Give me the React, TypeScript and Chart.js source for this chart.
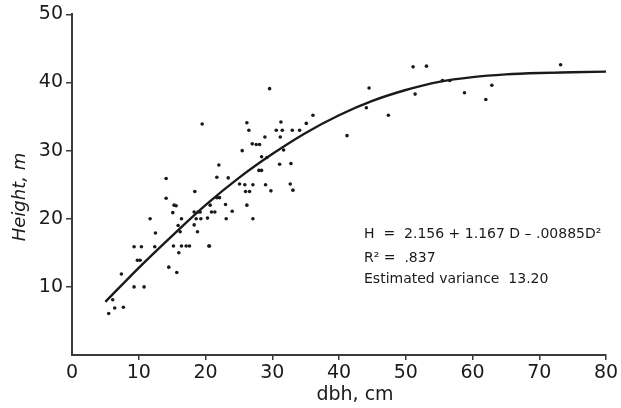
import React, { useEffect, useRef } from "react";
import { Chart, registerables } from "chart.js";

Chart.register(...registerables);

// Observed trees: diameter at breast height (cm) and height (m)
const dbh = [
  5.5, 6.1, 6.4, 7.7, 7.4, 9.3, 10.8, 9.3, 10.4, 9.8, 10.2, 11.7, 12.5, 12.4, 14.5, 15.7,
  14.1, 14.1, 15.3, 15.6, 15.1, 15.2, 16.0, 15.9, 16.2, 16.4, 16.4, 17.1, 17.6, 18.4, 18.3,
  18.9, 19.2, 18.6, 19.3, 20.3, 18.3, 18.8, 20.5, 19.5, 21.7, 23.4, 21.7, 22.1, 23.0, 20.7,
  20.9, 21.4, 24.0, 23.1, 22.0, 26.2, 26.5, 29.6, 31.3, 30.6, 31.5, 33.0, 34.1, 35.1, 36.1,
  31.2, 28.9, 27.0, 27.6, 28.1, 25.5, 31.7, 28.4, 29.2, 31.1, 32.8, 28.0, 28.4, 25.1, 25.9,
  27.1, 29.0, 32.7, 26.0, 26.6, 29.8, 33.1, 26.2, 27.1, 20.6, 41.2, 44.1, 44.5, 47.4, 51.1,
  53.1, 51.4, 55.5, 56.6, 58.8, 62.0, 62.9, 73.2,
];
const height = [
  6.1, 8.1, 6.9, 7.0, 11.9, 10.0, 10.0, 15.9, 15.9, 13.9, 13.9, 20.0, 17.9, 15.9, 12.9, 12.1,
  25.9, 23.0, 22.0, 21.9, 20.9, 16.0, 15.0, 19.0, 18.1, 20.0, 16.0, 16.0, 16.0, 24.0, 21.0,
  21.0, 21.0, 20.0, 20.0, 20.1, 19.1, 18.1, 16.0, 33.9, 26.1, 26.0, 23.1, 23.1, 22.1, 22.0,
  21.0, 21.0, 21.1, 20.0, 27.9, 34.1, 33.0, 39.1, 34.2, 33.0, 33.0, 33.0, 33.0, 34.0, 35.2,
  32.0, 32.0, 31.0, 30.9, 30.9, 30.0, 30.1, 29.1, 29.0, 28.0, 28.1, 27.1, 27.1, 25.1, 25.0,
  25.0, 25.0, 25.1, 24.0, 24.0, 24.1, 24.2, 22.0, 20.0, 16.0, 32.2, 36.3, 39.2, 35.2, 42.3,
  42.4, 38.3, 40.3, 40.3, 38.5, 37.5, 39.6, 42.6,
];

// Fitted curve as drawn in the figure
const curveD = [5, 10, 15, 20, 25, 30, 35, 40, 45, 50, 55, 60, 65, 70, 75, 80];
const curveH = [7.8, 12.8, 17.5, 22.0, 26.0, 29.5, 32.6, 35.2, 37.3, 38.9, 40.1, 40.8, 41.2, 41.4, 41.5, 41.6];

const xTicks = [0, 10, 20, 30, 40, 50, 60, 70, 80];
const yTicks = [10, 20, 30, 40, 50];

const annotationLines = ["H  =  2.156 + 1.167 D \u2013 .00885D\u00B2", "R\u00B2 =  .837", "Estimated variance  13.20"];

const FONT = "'DejaVu Sans', sans-serif";
const INK = "#1a1a1a";
const AXIS = "#3a3a3a";

const textPlugin = {
  id: "textPlugin",
  afterDraw(chart: any) {
    const ctx = chart.ctx as CanvasRenderingContext2D;
    ctx.save();
    ctx.fillStyle = INK;
    // x title
    ctx.font = `19px ${FONT}`;
    ctx.textAlign = "center";
    ctx.textBaseline = "alphabetic";
    ctx.fillText("dbh, cm", 355, 400);
    // y title
    ctx.save();
    ctx.translate(25, 197);
    ctx.rotate(-Math.PI / 2);
    ctx.font = `italic 18px ${FONT}`;
    ctx.textAlign = "center";
    ctx.fillText("Height, m", 0, 0);
    ctx.restore();
    // annotation
    ctx.font = `14px ${FONT}`;
    ctx.textAlign = "left";
    const baselines = [238, 262, 283];
    annotationLines.forEach((t, i) => ctx.fillText(t, 364, baselines[i]));
    ctx.restore();
  },
};

export default function App() {
  const ref = useRef<HTMLCanvasElement | null>(null);
  useEffect(() => {
    if (!ref.current) return;
    const points = dbh.map((d, i) => ({ x: d, y: height[i] }));
    const curve = curveD.map((d, i) => ({ x: d, y: curveH[i] }));
    const chart = new Chart(ref.current, {
      type: "scatter",
      data: {
        datasets: [
          {
            type: "line",
            data: curve,
            borderColor: INK,
            borderWidth: 2.4,
            pointRadius: 0,
            cubicInterpolationMode: "monotone",
            fill: false,
          } as any,
          {
            data: points,
            backgroundColor: INK,
            borderColor: INK,
            pointRadius: 1.8,
            borderWidth: 0,
          },
        ],
      },
      options: {
        responsive: false,
        animation: false,
        layout: { padding: { top: 14, right: 15, left: 0, bottom: 0 } },
        plugins: { legend: { display: false }, tooltip: { enabled: false } },
        scales: {
          x: {
            type: "linear",
            min: 0,
            max: 80,
            afterBuildTicks: (s: any) => {
              s.ticks = xTicks.map((v) => ({ value: v }));
            },
            afterFit: (s: any) => {
              s.height = 53;
            },
            ticks: { font: { family: FONT, size: 19 }, color: INK, padding: 2, maxRotation: 0 },
            grid: {
              display: true,
              drawOnChartArea: false,
              drawTicks: true,
              tickLength: 5,
              color: (c: any) => (c.tick && c.tick.value === 0 ? "rgba(0,0,0,0)" : AXIS),
              lineWidth: 1.5,
            },
            border: { display: true, color: AXIS, width: 2 },
          },
          y: {
            type: "linear",
            min: 0,
            max: 50,
            afterBuildTicks: (s: any) => {
              s.ticks = [0, ...yTicks].map((v) => ({ value: v }));
            },
            afterFit: (s: any) => {
              s.width = 72;
            },
            ticks: {
              font: { family: FONT, size: 19 },
              color: INK,
              padding: 3,
              callback: (v: any) => (v === 0 ? "" : String(v)),
            },
            grid: {
              display: true,
              drawOnChartArea: false,
              drawTicks: true,
              tickLength: 6,
              color: (c: any) => (c.tick && c.tick.value === 0 ? "rgba(0,0,0,0)" : AXIS),
              lineWidth: 1.5,
            },
            border: { display: true, color: AXIS, width: 2 },
          },
        },
      },
      plugins: [textPlugin],
    } as any);
    return () => chart.destroy();
  }, []);
  return (
    <div style={{ position: "absolute", left: 0, top: 0, width: 621, height: 408, background: "#fff" }}>
      <canvas ref={ref} width={621} height={408} />
    </div>
  );
}
